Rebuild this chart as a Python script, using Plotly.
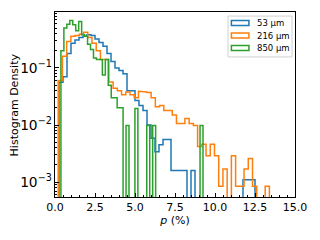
import numpy as np
import plotly.graph_objects as go

# ---- data (histogram densities) ----
labels = ["53 μm", "216 μm", "850 μm"]
colors = ["#1f77b4", "#ff7f0e", "#2ca02c"]

bin_start_53 = 0.25
bin_width_53 = 0.25
density_53 = [0.056, 0.07, 0.18, 0.27, 0.31, 0.34, 0.36, 0.38, 0.37, 0.32,
              0.28, 0.24, 0.18, 0.13, 0.10, 0.09, 0.079, 0.04, 0.04, 0.027,
              0.022, 0.018, 0.01, 0.0059, 0.0034, 0.0045, 0.0056, 0.0056, 0.0016, 0.0016,
              0.0016, 0.0016, 0, 0.0016, 0, 0, 0, 0, 0, 0,
              0, 0, 0, 0, 0, 0, 0.0011, 0.0011, 0.0011]

bin_start_216 = 0.2
bin_width_216 = 0.264
density_216 = [0.06, 0.16, 0.29, 0.36, 0.37, 0.39, 0.42, 0.34, 0.27, 0.2,
               0.14, 0.14, 0.057, 0.044, 0.04, 0.034, 0.038, 0.034, 0.03, 0.039,
               0.038, 0.037, 0.03, 0.021, 0.022, 0.018, 0.018, 0.015, 0.0107, 0.0107,
               0.013, 0.0107, 0.0098, 0.0042, 0.0046, 0.0029, 0.0046, 0.0029, 0.00085, 0.0017,
               0, 0.0029, 0.00085, 0.00085, 0.0017, 0.0026, 0.00085, 0, 0, 0.00085]

bin_start_850 = 0.0
bin_width_850 = 0.185
density_850 = [0, 0, 0.2, 0.5, 0.58, 0.68, 0.57, 0.45, 0.65, 0.38,
               0.36, 0.26, 0.21, 0.15, 0.14, 0.14, 0.075, 0.14, 0.05, 0.03,
               0.03, 0.02, 0.02, 0, 0.0098, 0, 0, 0.0195, 0, 0,
               0, 0.0098, 0, 0.0098, 0, 0, 0, 0, 0, 0,
               0, 0, 0, 0, 0, 0, 0, 0, 0, 0.0098]

x_range = [0, 15]
y_range_log = [-3.26, -0.02]

series = [
    (bin_start_53, bin_width_53, density_53),
    (bin_start_216, bin_width_216, density_216),
    (bin_start_850, bin_width_850, density_850),
]

FLOOR = 1e-7  # zero-density bins drop below the visible axis (like log(0))


def step_outline(start, width, dens):
    edges = start + width * np.arange(len(dens) + 1)
    xs = [edges[0]]
    ys = [FLOOR]
    for i, d in enumerate(dens):
        v = d if d > 0 else FLOOR
        xs += [edges[i], edges[i + 1]]
        ys += [v, v]
    xs.append(edges[-1])
    ys.append(FLOOR)
    return xs, ys


FONT = "DejaVu Sans"
fig = go.Figure()
for (start, width, dens), name, col in zip(series, labels, colors):
    xs, ys = step_outline(start, width, dens)
    fig.add_trace(go.Scatter(x=xs, y=ys, mode="lines", name=name,
                             line=dict(color=col, width=1.5),
                             showlegend=False, hoverinfo="skip"))

# ---- custom legend (matplotlib-like patch legend) ----
shapes = []
annotations = []
box_x0, box_x1 = 0.721, 0.9875
box_y0, box_y1 = 0.757, 0.978
shapes.append(dict(type="rect", xref="paper", yref="paper",
                   x0=box_x0, x1=box_x1, y0=box_y0, y1=box_y1,
                   line=dict(color="#d0d0d0", width=1), fillcolor="white",
                   layer="above"))
row_h = 12.5 / 185
first_row = 0.9405
for i, (name, col) in enumerate(zip(labels, colors)):
    yc = first_row - i * row_h
    shapes.append(dict(type="rect", xref="paper", yref="paper",
                       x0=0.735, x1=0.808, y0=yc - 0.0135, y1=yc + 0.0135,
                       line=dict(color=col, width=1.5), fillcolor="rgba(0,0,0,0)",
                       layer="above"))
    annotations.append(dict(xref="paper", yref="paper", x=0.835, y=yc,
                            text=name, showarrow=False, xanchor="left",
                            yanchor="middle",
                            font=dict(family=FONT, size=8.5, color="black")))

# y-axis title placed like the reference
annotations.append(dict(xref="paper", yref="paper", x=-0.167, y=0.5,
                        text="Histogram Density", textangle=-90, showarrow=False,
                        xanchor="center", yanchor="middle",
                        font=dict(family=FONT, size=11, color="black")))

fig.update_layout(
    width=320, height=240,
    margin=dict(l=55, r=25, t=12, b=43, pad=0),
    paper_bgcolor="white", plot_bgcolor="white",
    font=dict(family=FONT, size=11, color="black"),
    shapes=shapes, annotations=annotations,
    showlegend=False,
    xaxis=dict(range=x_range, dtick=2.5, tick0=0, tickformat=".1f",
               ticks="inside", ticklen=4, tickwidth=1, tickcolor="black",
               minor=dict(dtick=0.5, ticks="inside", ticklen=2, tickcolor="black"),
               showline=True, linecolor="black", linewidth=1, mirror=True,
               showgrid=False, zeroline=False, automargin=False,
               tickfont=dict(size=11),
               title=dict(text="<i>p</i> (%)", font=dict(size=11), standoff=2)),
    yaxis=dict(type="log", range=y_range_log, dtick=1, exponentformat="power",
               ticks="inside", ticklen=4, tickwidth=1, tickcolor="black",
               minor=dict(dtick="D1", ticks="inside", ticklen=2, tickcolor="black"),
               showline=True, linecolor="black", linewidth=1, mirror=True,
               showgrid=False, zeroline=False, automargin=False,
               tickfont=dict(size=11)),
)

fig.write_html("out.html",
               config={"displayModeBar": False, "staticPlot": True},
               post_script="document.body.style.margin='0';document.body.style.padding='0';")
